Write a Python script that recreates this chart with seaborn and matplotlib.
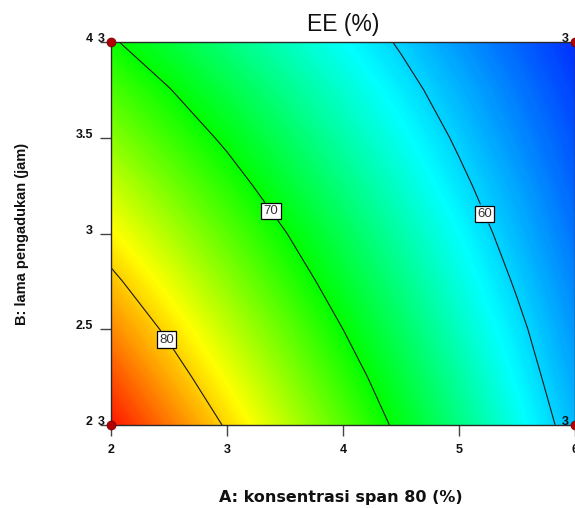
import numpy as np
import matplotlib
matplotlib.use('Agg')
import matplotlib.pyplot as plt
import seaborn as sns
from matplotlib.colors import LinearSegmentedColormap

# Grid of factor levels and response EE (%)
span80 = [2.0, 2.5, 3.0, 3.5, 4.0, 4.5, 5.0, 5.5, 6.0]        # A: konsentrasi span 80 (%)
lama = [2.0, 2.25, 2.5, 2.75, 3.0, 3.25, 3.5, 3.75, 4.0]      # B: lama pengadukan (jam)
ee_b200 = [86.7, 83.2, 79.7, 76.2, 72.8, 69.3, 65.8, 62.3, 58.8]
ee_b225 = [84.7, 81.3, 78.0, 74.7, 71.4, 68.1, 64.8, 61.4, 58.1]
ee_b250 = [82.6, 79.5, 76.3, 73.2, 70.0, 66.9, 63.7, 60.6, 57.4]
ee_b275 = [80.6, 77.6, 74.6, 71.6, 68.6, 65.7, 62.7, 59.7, 56.7]
ee_b300 = [78.5, 75.7, 72.9, 70.1, 67.3, 64.5, 61.7, 58.8, 56.0]
ee_b325 = [76.5, 73.8, 71.2, 68.5, 65.9, 63.3, 60.6, 58.0, 55.3]
ee_b350 = [74.4, 71.9, 69.5, 67.0, 64.5, 62.1, 59.6, 57.1, 54.7]
ee_b375 = [72.4, 70.1, 67.8, 65.5, 63.2, 60.9, 58.6, 56.3, 54.0]
ee_b400 = [70.3, 68.2, 66.0, 63.9, 61.8, 59.7, 57.5, 55.4, 53.3]

contour_levels = [60, 70, 80]
label_spots = [(5.25, 3.11), (3.41, 3.13), (2.49, 2.45)]

# design points (corners) and replicate counts
design_A = [2, 6, 2, 6]
design_B = [2, 2, 4, 4]
design_reps = [3, 3, 3, 3]

x_ticks = [2, 3, 4, 5, 6]
x_ticklabels = ['2', '3', '4', '5', '6']
y_ticks = [2, 2.5, 3, 3.5, 4]
y_ticklabels = ['2', '2.5', '3', '3.5', '4']

sns.set_theme(style='ticks')
plt.rcParams['font.family'] = ['Liberation Sans', 'DejaVu Sans']

fig = plt.figure(figsize=(5.75, 5.08), dpi=100)
ax = fig.add_axes([111 / 575, 83 / 508, 464 / 575, 383 / 508])

X, Y = np.meshgrid(span80, lama)
Z = np.array([ee_b200, ee_b225, ee_b250, ee_b275, ee_b300,
              ee_b325, ee_b350, ee_b375, ee_b400])

cmap = LinearSegmentedColormap.from_list(
    'dx', ['#0030ff', '#00ffff', '#00ff00', '#ffff00', '#ff1800'])
ax.contourf(X, Y, Z, levels=np.linspace(Z.min(), Z.max(), 300), cmap=cmap)
cs = ax.contour(X, Y, Z, levels=contour_levels, colors='#1a1a1a', linewidths=0.8)
texts = ax.clabel(cs, manual=label_spots, inline=True, fmt='%d',
                  fontsize=9.5, colors='#333333', inline_spacing=3)
for t in texts:
    t.set_rotation(0)
    t.set_bbox(dict(facecolor='white', edgecolor='black', pad=1.6, linewidth=0.9))

sns.scatterplot(x=design_A, y=design_B, ax=ax, color='#b00000',
                edgecolor='#700000', s=42, zorder=6, clip_on=False, legend=False)
for a, b, n in zip(design_A, design_B, design_reps):
    ax.annotate(str(n), (a, b), xytext=(-4.5, 0.3), textcoords='offset points',
                ha='right', va='baseline', fontsize=9, fontweight='bold',
                color='#111111', annotation_clip=False, zorder=7)

ax.set_xlim(2, 6)
ax.set_ylim(2, 4)
ax.set_xticks(x_ticks)
ax.set_xticklabels(x_ticklabels)
ax.set_yticks(y_ticks)
ax.set_yticklabels(y_ticklabels)
ax.tick_params(bottom=True, left=True, direction='out', length=8, width=1,
               color='#444444', labelsize=9, labelcolor='#111111')
ax.tick_params(axis='x', pad=6)
ax.tick_params(axis='y', pad=5)
for lbl in ax.get_xticklabels() + ax.get_yticklabels():
    lbl.set_fontweight('bold')
for lbl in ax.get_yticklabels():
    lbl.set_verticalalignment('baseline')

for sp in ax.spines.values():
    sp.set_color('#2a2a2a')
    sp.set_linewidth(1)

ax.set_title('EE (%)', fontsize=16.5, pad=8, color='#111111')
ax.set_xlabel('A: konsentrasi span 80 (%)', fontsize=11.5, fontweight='bold',
              color='#111111', family=['DejaVu Sans'])
ax.xaxis.set_label_coords(0.496, -0.17)
ax.set_ylabel('B: lama pengadukan (jam)', fontsize=10.5, fontweight='bold', color='#111111')
ax.yaxis.set_label_coords(-0.176, 0.5)

fig.savefig('out.png', dpi=100)
